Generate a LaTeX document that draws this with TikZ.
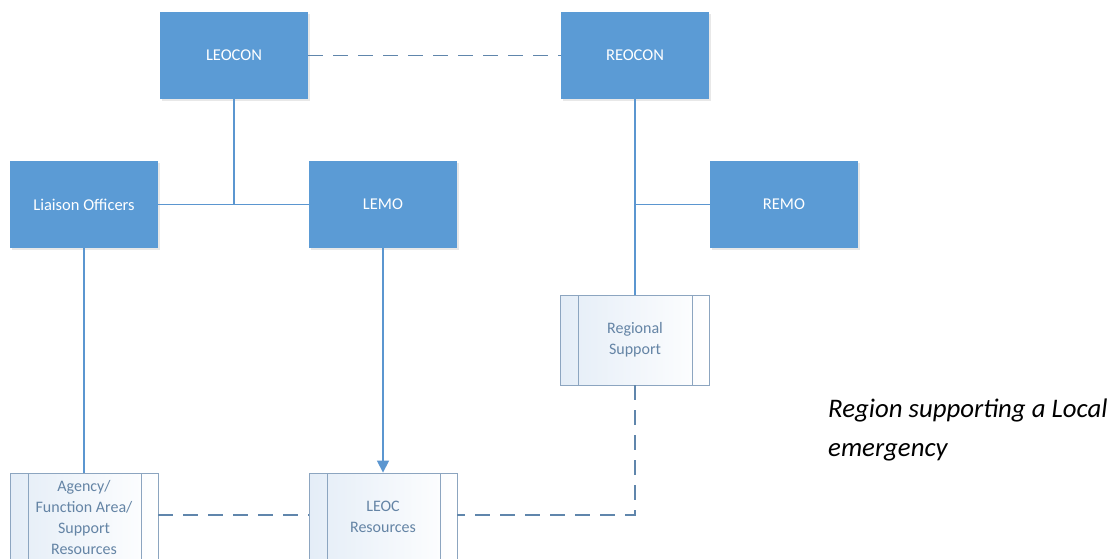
\documentclass[tikz,border=0pt]{standalone}
\usepackage{fontspec}
\setmainfont{Carlito}
\usetikzlibrary{shadows,arrows.meta}
\definecolor{boxblue}{RGB}{91,155,213}
\definecolor{linkblue}{RGB}{91,150,208}
\definecolor{dashblue}{RGB}{96,134,172}
\definecolor{subline}{RGB}{140,165,192}
\definecolor{subtext}{RGB}{100,132,165}
\definecolor{subleft}{RGB}{228,237,247}
\tikzset{
  bluebox/.style={rectangle, fill=boxblue, draw=none, text=white,
    minimum width=148pt, minimum height=87pt, inner sep=0pt,
    font=\fontsize{16.5}{20}\selectfont,
    drop shadow={opacity=0.18, shadow xshift=1.5pt, shadow yshift=-1.5pt}},
  subbox/.style={rectangle, draw=subline, line width=0.9pt,
    left color=subleft, right color=white,
    text=subtext, align=center,
    minimum width=148pt, minimum height=87pt, inner sep=0pt,
    font=\fontsize{16}{21}\selectfont,
    path picture={
      \draw[subline, line width=0.9pt]
        ([xshift=18pt]path picture bounding box.north west) --
        ([xshift=18pt]path picture bounding box.south west);
      \draw[subline, line width=0.9pt]
        ([xshift=-17pt]path picture bounding box.north east) --
        ([xshift=-17pt]path picture bounding box.south east);
    }},
  link/.style={draw=linkblue, line width=1.6pt},
  dashlink/.style={draw=dashblue, line width=1.8pt, dash pattern=on 15pt off 10pt}
}
\begin{document}
\begin{tikzpicture}[x=1pt,y=-1pt]
\useasboundingbox[fill=white] (0,0) rectangle (1111,558);

\node[bluebox] (leocon) at (234,55.5) {LEOCON};
\node[bluebox] (reocon) at (635,55.5) {REOCON};
\node[bluebox] (liaison) at (84,204.5) {Liaison Officers};
\node[bluebox] (lemo) at (383,204.5) {LEMO};
\node[bluebox] (remo) at (784,204.5) {REMO};

\node[subbox, minimum width=149pt, minimum height=90pt] (regional) at (635,340) {Regional\\Support};
\node[subbox] (agency) at (84,517) {Agency/\\Function Area/\\Support\\Resources};
\node[subbox] (leoc) at (383,516.5) {LEOC\\Resources};

\node[anchor=north west, align=left, font=\fontsize{26.8}{39}\selectfont\itshape, inner sep=0pt]
  (caption) at (828,399) {Region supporting a Local\\emergency};

% connectors
\draw[dashlink] (leocon.east) -- (reocon.west);
\draw[link] (liaison.east) -- (lemo.west);
\coordinate (j1) at (leocon.south |- liaison.east);
\draw[link] (leocon.south) -- (j1);
\draw[link] (reocon.south) -- (regional.north);
\coordinate (j2) at (reocon.south |- remo.west);
\draw[link] (j2) -- (remo.west);
\draw[link] (liaison.south) -- (agency.north);
\draw[link, -{Triangle[length=12pt,width=12pt]}] (lemo.south) -- (leoc.north);
\coordinate (j3) at ([yshift=1.5pt]reocon.south |- leoc.east);
\draw[dashlink] (regional.south) -- (j3) -- ([yshift=1.5pt]leoc.east);
\coordinate (j4) at ([yshift=1.5pt]agency.east |- leoc.west);
\draw[dashlink] (j4) -- ([yshift=1.5pt]leoc.west);
\end{tikzpicture}
\end{document}
